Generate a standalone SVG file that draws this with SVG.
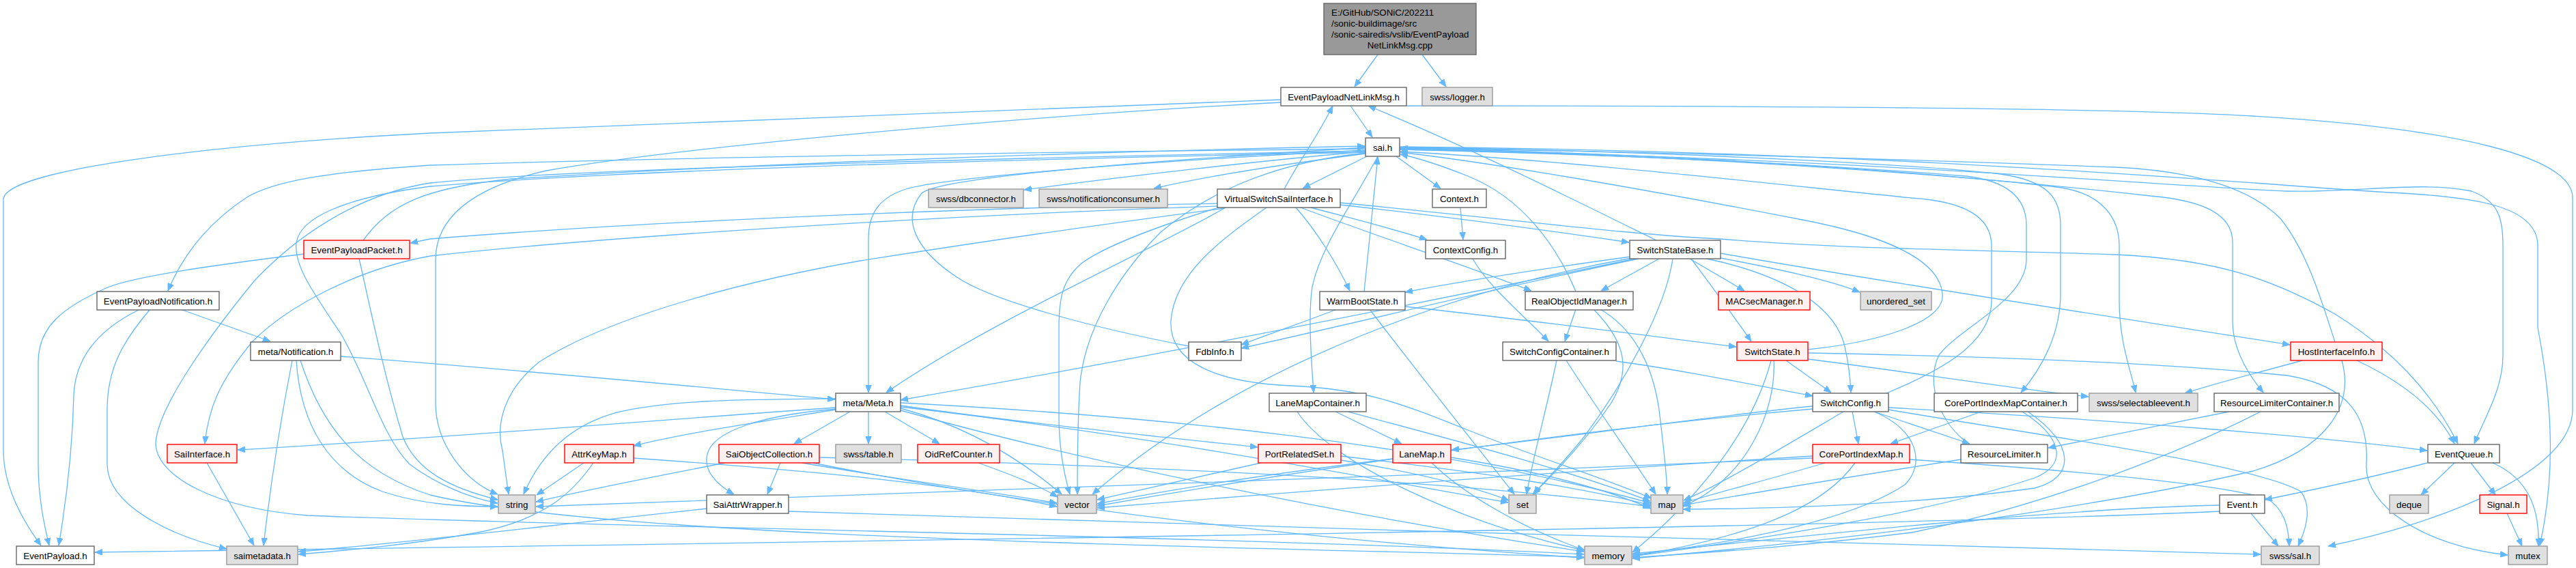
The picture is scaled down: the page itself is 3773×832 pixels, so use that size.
<svg xmlns="http://www.w3.org/2000/svg" width="3773" height="832" viewBox="0 0 3773 832">
<style>
.n rect{fill:#ffffff;stroke:#666666}
.g rect{fill:#e0e0e0;stroke:#999999}
.r rect{fill:#fff0f0;stroke:#ff0000}
.root rect{fill:#999999;stroke:#666666}
rect{stroke-width:1.4}
text{font-family:"Liberation Sans",Arial,Helvetica,sans-serif;font-size:13.33px;fill:#000000;text-anchor:middle}
.root text.l{text-anchor:start}
#edges path{fill:none;stroke:#63b8ff;stroke-width:1.3;marker-end:url(#a)}
</style>
<defs>
<marker id="a" markerWidth="11" markerHeight="9" refX="11" refY="4.5" orient="auto" markerUnits="userSpaceOnUse"><path d="M0,0 L11,4.5 L0,9 z" fill="#63b8ff" stroke="#63b8ff" stroke-width="0.8"/></marker>
</defs>
<rect x="0" y="0" width="3773" height="832" fill="#ffffff"/>
<g id="edges">
<path d="M2018,80 L1984,127"/>
<path d="M2083,80 L2118,127"/>
<path d="M1978,155 L2010,201"/>
<path d="M1876,146 C1500,160 900,185 630,195 C300,212 5,250 5,292 L5,660 C5,715 35,765 60,799"/>
<path d="M2060,155 C2600,155 3100,158 3300,170 C3600,188 3768,230 3768,290 L3768,600 C3768,690 3580,765 3410,800"/>
<path d="M1876,150 C1500,170 1000,215 800,250 C690,275 638,320 638,380 L638,590 C638,650 680,705 729,724"/>
<path d="M2000,222 C1850,235 1650,258 1500,278"/>
<path d="M2000,225 C1900,238 1780,255 1690,276"/>
<path d="M2002,229 L1908,276"/>
<path d="M2045,229 L2110,276"/>
<path d="M2000,218 C1600,222 1000,230 630,242 C480,252 400,265 360,290 C300,330 265,380 246,426"/>
<path d="M2000,220 C1700,235 1400,258 1330,276 C1290,288 1272,310 1272,350 L1272,575"/>
<path d="M2018,229 C1980,300 1935,360 1922,420 C1916,460 1920,520 1924,575"/>
<path d="M2000,224 C1850,240 1760,290 1700,340 C1640,400 1590,480 1582,560 C1578,620 1578,680 1578,724"/>
<path d="M2050,216 C2400,220 2800,240 2930,255 C3000,265 3018,290 3018,330 L3018,430 C3018,490 2990,540 2960,575"/>
<path d="M2050,217 C2500,225 2900,260 3020,275 C3080,285 3104,320 3104,360 L3104,440 C3104,500 3120,540 3128,575"/>
<path d="M2050,218 C2600,230 3000,270 3150,287 C3230,294 3270,315 3270,355 L3270,470 C3270,510 3290,545 3315,575"/>
<path d="M2050,219 C2700,230 3200,275 3350,280 C3450,282 3550,265 3620,280 C3660,295 3666,320 3666,360 L3666,520 C3666,570 3640,610 3624,650"/>
<path d="M2050,215 C2800,222 3300,270 3500,282 C3620,288 3717,300 3717,360 L3717,480 C3740,600 3742,700 3720,799"/>
<path d="M2000,223 C1400,235 900,250 630,273 C500,290 440,320 434,355 C430,390 460,430 500,490 C540,560 560,640 600,680 C640,710 690,730 729,737"/>
<path d="M2000,221 C1300,235 800,250 630,268 C520,285 430,350 372,412 C300,500 230,600 228,650 C230,700 320,745 450,755 C800,770 1800,785 2320,812"/>
<path d="M532,352 C570,300 620,275 750,262 C1100,240 1600,222 1999,214"/>
<path d="M1741,507 C1600,480 1450,440 1400,405 C1340,365 1320,320 1350,283 C1380,258 1700,235 1999,216"/>
<path d="M1998,427 C2005,360 2012,290 2018,230"/>
<path d="M2308,427 C2280,360 2230,290 2150,258 C2110,242 2080,232 2051,226"/>
<path d="M2648,512 C2760,500 2850,470 2845,430 C2840,380 2760,345 2640,322 C2450,285 2200,240 2051,223"/>
<path d="M2763,576 C2850,540 2917,500 2917,440 L2917,360 C2917,320 2880,295 2800,290 C2600,270 2300,235 2051,222"/>
<path d="M2885,651 C2840,620 2820,560 2840,520 C2870,480 2968,440 2968,380 L2968,330 C2968,290 2940,265 2880,258 C2600,235 2300,225 2051,219"/>
<path d="M3420,501 C3400,440 3380,370 3340,320 C3290,270 3200,250 3100,245 C2700,230 2300,220 2051,217"/>
<path d="M1881,277 C1900,240 1930,200 1952,155"/>
<path d="M2426,352 C2300,290 2150,215 2004,155"/>
<path d="M1783,298 C1500,303 1000,320 630,350 L601,356"/>
<path d="M1783,302 C1400,315 900,345 630,375 C520,395 420,450 370,500 C320,560 305,600 300,650"/>
<path d="M1795,304 C1700,360 1450,470 1298,575"/>
<path d="M1920,304 C1980,320 2040,335 2090,351"/>
<path d="M1963,300 C2100,315 2250,335 2386,355"/>
<path d="M1898,304 C1930,340 1960,390 1977,426"/>
<path d="M1905,304 C2000,340 2150,390 2243,426"/>
<path d="M1963,297 C2200,320 2400,345 2520,350 C2700,365 2900,366 3100,373 C3250,380 3330,410 3420,460 C3500,510 3560,570 3600,650"/>
<path d="M1785,304 C1700,330 1620,360 1585,385 C1555,410 1551,440 1551,480 L1551,610 C1551,660 1560,700 1567,724"/>
<path d="M1794,305 C1600,330 1400,360 1260,382 C1100,410 900,460 790,530 C740,570 725,620 736,660 C740,690 742,705 745,724"/>
<path d="M1855,304 C1790,350 1720,400 1715,470 C1712,530 1780,560 1890,565 C2000,570 2050,590 2150,630 C2250,670 2350,700 2419,730"/>
<path d="M2139,304 L2143,351"/>
<path d="M2157,379 C2180,420 2230,460 2268,500"/>
<path d="M445,372 C300,390 200,405 160,420 C90,450 56,480 56,530 L56,680 C56,730 65,770 72,799"/>
<path d="M526,379 C540,440 560,540 590,640 C610,690 660,715 729,732"/>
<path d="M267,454 L396,500"/>
<path d="M203,454 C150,480 110,520 108,580 C106,660 96,740 86,799"/>
<path d="M219,454 C180,500 157,540 157,600 L157,680 C157,740 250,785 332,804"/>
<path d="M428,528 C410,620 395,720 386,799"/>
<path d="M499,522 C800,545 1000,565 1223,585"/>
<path d="M434,528 C440,620 480,690 560,720 C620,740 680,742 729,742"/>
<path d="M440,528 C470,620 520,690 630,725 C900,790 1800,800 2320,816"/>
<path d="M303,678 L372,799"/>
<path d="M1035,745 C800,770 600,795 437,808"/>
<path d="M869,678 C840,720 800,760 700,780 C600,798 520,805 437,812"/>
<path d="M3251,749 C2800,770 1500,790 139,809"/>
<path d="M3251,740 C3000,745 2600,790 2391,811"/>
<path d="M1272,603 L1272,650"/>
<path d="M1296,603 L1376,650"/>
<path d="M1319,598 C1400,620 1480,660 1555,724"/>
<path d="M1319,594 C1500,620 1700,640 1842,655"/>
<path d="M1319,590 C1700,610 2100,650 2418,737"/>
<path d="M1224,597 C900,620 600,645 348,659"/>
<path d="M1224,600 C1100,620 1000,635 928,653"/>
<path d="M1245,603 L1163,650"/>
<path d="M1224,599 C1120,608 1045,630 1036,665 C1030,690 1050,710 1075,724"/>
<path d="M1224,584 C1100,585 980,585 900,605 C830,625 790,670 767,724"/>
<path d="M1319,601 C1600,680 2000,760 2320,808"/>
<path d="M1319,596 C1700,640 2000,700 2209,736"/>
<path d="M1956,603 L2053,650"/>
<path d="M1974,603 C2150,650 2300,690 2417,734"/>
<path d="M1900,603 C1950,680 2150,770 2321,806"/>
<path d="M1143,678 L1124,724"/>
<path d="M1062,678 C950,700 870,715 785,735"/>
<path d="M1175,678 C1300,700 1450,720 1548,737"/>
<path d="M1200,670 C1600,680 2100,700 2417,742"/>
<path d="M1190,678 C1500,740 1900,790 2320,817"/>
<path d="M855,678 L786,725"/>
<path d="M928,671 C1200,690 1400,710 1548,742"/>
<path d="M1433,678 C1480,695 1520,710 1549,728"/>
<path d="M1847,678 C1750,700 1680,715 1607,732"/>
<path d="M1964,674 C2060,690 2150,710 2210,733"/>
<path d="M1964,668 C2150,690 2300,710 2418,740"/>
<path d="M2040,672 C1850,695 1700,720 1607,738"/>
<path d="M2125,670 C2250,690 2350,715 2418,745"/>
<path d="M2097,678 C2140,720 2220,770 2321,806"/>
<path d="M2280,528 C2265,600 2245,670 2236,724"/>
<path d="M2294,528 C2340,600 2390,670 2425,724"/>
<path d="M2367,529 C2450,540 2550,560 2655,580"/>
<path d="M2308,453 L2292,500"/>
<path d="M2334,453 C2380,500 2390,540 2360,590 C2320,650 2270,700 2245,724"/>
<path d="M2344,453 C2390,480 2420,530 2430,600 C2436,650 2442,700 2442,724"/>
<path d="M1958,453 C1920,468 1870,485 1818,505"/>
<path d="M2006,453 C2080,550 2160,650 2218,724"/>
<path d="M2058,449 C2250,470 2400,490 2543,508"/>
<path d="M2430,379 L2345,426"/>
<path d="M2388,376 C2250,395 2150,410 2058,428"/>
<path d="M2475,379 L2555,426"/>
<path d="M2510,376 C2600,393 2680,410 2724,428"/>
<path d="M2477,379 C2500,410 2530,450 2565,500"/>
<path d="M2500,379 C2600,400 2680,440 2700,500 C2708,530 2710,555 2711,575"/>
<path d="M2520,371 C2800,420 3100,465 3354,505"/>
<path d="M2400,379 C2200,420 2000,470 1818,510"/>
<path d="M2395,379 C2100,440 1700,520 1319,586"/>
<path d="M2450,379 C2440,450 2380,560 2320,640 C2280,690 2255,710 2248,724"/>
<path d="M2390,378 C2100,430 1800,550 1600,724"/>
<path d="M2616,528 L2682,575"/>
<path d="M2648,526 C2800,545 2950,570 3059,581"/>
<path d="M2648,517 C2900,522 3150,530 3350,550 C3440,565 3470,610 3466,680 C3462,740 3550,800 3673,813"/>
<path d="M2594,528 C2570,620 2500,720 2391,809"/>
<path d="M2598,528 C2602,600 2560,700 2465,742"/>
<path d="M2713,603 L2722,650"/>
<path d="M2745,603 L2885,650"/>
<path d="M2766,597 C3100,615 3400,640 3555,660"/>
<path d="M2655,595 C2500,610 2300,640 2126,659"/>
<path d="M2655,599 C2300,630 1900,690 1607,741"/>
<path d="M2745,603 C2810,630 2820,680 2790,710 C2700,770 2500,800 2391,813"/>
<path d="M2700,603 C2620,650 2520,710 2466,733"/>
<path d="M2902,603 L2769,650"/>
<path d="M2962,603 C3020,640 3030,680 2980,700 C2800,760 2500,800 2391,815"/>
<path d="M2970,603 C3040,650 3040,700 2980,715 C2800,740 2600,745 2465,746"/>
<path d="M3265,603 C3180,620 3080,640 3000,656"/>
<path d="M3311,603 C3200,660 3000,740 2800,780 C2600,805 2450,812 2391,817"/>
<path d="M2872,673 C2700,700 2550,725 2465,740"/>
<path d="M2655,668 C2300,690 1900,720 1607,744"/>
<path d="M2655,671 C2000,700 1200,730 785,742"/>
<path d="M2673,678 C2600,700 2520,720 2465,737"/>
<path d="M2717,678 C2680,730 2600,780 2391,815"/>
<path d="M2797,673 C3050,690 3250,710 3320,730 C3345,745 3352,770 3353,800"/>
<path d="M3372,528 C3300,548 3250,560 3200,576"/>
<path d="M3452,528 C3520,560 3570,600 3595,650"/>
<path d="M3430,528 C3450,600 3400,660 3300,690 C3000,760 2600,800 2391,818"/>
<path d="M3555,678 C3480,698 3400,715 3317,732"/>
<path d="M3595,678 L3546,725"/>
<path d="M3619,678 L3655,725"/>
<path d="M3651,678 C3700,700 3720,740 3718,800"/>
<path d="M3297,752 L3337,800"/>
<path d="M3672,752 L3694,800"/>
<path d="M2766,600 C3000,640 3300,680 3370,720 C3385,740 3380,770 3366,800"/>
<path d="M1155,749 C1800,770 2800,800 3311,812"/>
</g>
<g id="n_root" class="root"><rect x="1939" y="5" width="223" height="75"/><text class="l" x="1950" y="23">E:/GitHub/SONiC/202211</text><text class="l" x="1950" y="39">/sonic-buildimage/src</text><text class="l" x="1950" y="55">/sonic-sairedis/vslib/EventPayload</text><text x="2050.5" y="71">NetLinkMsg.cpp</text></g>
<g id="n_EventPayloadNetLinkMsg" class="n"><rect x="1876" y="128" width="184" height="27"/><text x="1968" y="146.5">EventPayloadNetLinkMsg.h</text></g>
<g id="n_logger" class="g"><rect x="2083" y="128" width="103" height="27"/><text x="2134.5" y="146.5">swss/logger.h</text></g>
<g id="n_sai" class="n"><rect x="2000" y="202" width="50" height="27"/><text x="2025" y="220.5">sai.h</text></g>
<g id="n_dbconnector" class="g"><rect x="1360" y="277" width="139" height="27"/><text x="1429.5" y="295.5">swss/dbconnector.h</text></g>
<g id="n_notificationconsumer" class="g"><rect x="1522" y="277" width="188" height="27"/><text x="1616" y="295.5">swss/notificationconsumer.h</text></g>
<g id="n_VirtualSwitchSaiInterface" class="n"><rect x="1783" y="277" width="180" height="27"/><text x="1873" y="295.5">VirtualSwitchSaiInterface.h</text></g>
<g id="n_Context" class="n"><rect x="2098" y="277" width="79" height="27"/><text x="2137.5" y="295.5">Context.h</text></g>
<g id="n_EventPayloadPacket" class="r"><rect x="445" y="352" width="155" height="27"/><text x="522.5" y="370.5">EventPayloadPacket.h</text></g>
<g id="n_ContextConfig" class="n"><rect x="2088" y="352" width="117" height="27"/><text x="2146.5" y="370.5">ContextConfig.h</text></g>
<g id="n_SwitchStateBase" class="n"><rect x="2387" y="352" width="133" height="27"/><text x="2453.5" y="370.5">SwitchStateBase.h</text></g>
<g id="n_EventPayloadNotification" class="n"><rect x="142" y="427" width="179" height="27"/><text x="231.5" y="445.5">EventPayloadNotification.h</text></g>
<g id="n_WarmBootState" class="n"><rect x="1933" y="427" width="125" height="27"/><text x="1995.5" y="445.5">WarmBootState.h</text></g>
<g id="n_RealObjectIdManager" class="n"><rect x="2234" y="427" width="158" height="27"/><text x="2313" y="445.5">RealObjectIdManager.h</text></g>
<g id="n_MACsecManager" class="r"><rect x="2517" y="427" width="134" height="27"/><text x="2584" y="445.5">MACsecManager.h</text></g>
<g id="n_unordered_set" class="g"><rect x="2725" y="427" width="104" height="27"/><text x="2777" y="445.5">unordered_set</text></g>
<g id="n_Notification" class="n"><rect x="367" y="501" width="132" height="27"/><text x="433" y="519.5">meta/Notification.h</text></g>
<g id="n_FdbInfo" class="n"><rect x="1741" y="501" width="77" height="27"/><text x="1779.5" y="519.5">FdbInfo.h</text></g>
<g id="n_SwitchConfigContainer" class="n"><rect x="2201" y="501" width="166" height="27"/><text x="2284" y="519.5">SwitchConfigContainer.h</text></g>
<g id="n_SwitchState" class="r"><rect x="2544" y="501" width="104" height="27"/><text x="2596" y="519.5">SwitchState.h</text></g>
<g id="n_HostInterfaceInfo" class="r"><rect x="3355" y="501" width="134" height="27"/><text x="3422" y="519.5">HostInterfaceInfo.h</text></g>
<g id="n_Meta" class="n"><rect x="1224" y="576" width="95" height="27"/><text x="1271.5" y="594.5">meta/Meta.h</text></g>
<g id="n_LaneMapContainer" class="n"><rect x="1859" y="576" width="142" height="27"/><text x="1930" y="594.5">LaneMapContainer.h</text></g>
<g id="n_SwitchConfig" class="n"><rect x="2655" y="576" width="111" height="27"/><text x="2710.5" y="594.5">SwitchConfig.h</text></g>
<g id="n_CorePortIndexMapContainer" class="n"><rect x="2833" y="576" width="210" height="27"/><text x="2938" y="594.5">CorePortIndexMapContainer.h</text></g>
<g id="n_selectableevent" class="g"><rect x="3060" y="576" width="159" height="27"/><text x="3139.5" y="594.5">swss/selectableevent.h</text></g>
<g id="n_ResourceLimiterContainer" class="n"><rect x="3243" y="576" width="183" height="27"/><text x="3334.5" y="594.5">ResourceLimiterContainer.h</text></g>
<g id="n_SaiInterface" class="r"><rect x="245" y="651" width="102" height="27"/><text x="296" y="669.5">SaiInterface.h</text></g>
<g id="n_AttrKeyMap" class="r"><rect x="827" y="651" width="101" height="27"/><text x="877.5" y="669.5">AttrKeyMap.h</text></g>
<g id="n_SaiObjectCollection" class="r"><rect x="1053" y="651" width="147" height="27"/><text x="1126.5" y="669.5">SaiObjectCollection.h</text></g>
<g id="n_table" class="g"><rect x="1224" y="651" width="96" height="27"/><text x="1272" y="669.5">swss/table.h</text></g>
<g id="n_OidRefCounter" class="r"><rect x="1344" y="651" width="120" height="27"/><text x="1404" y="669.5">OidRefCounter.h</text></g>
<g id="n_PortRelatedSet" class="r"><rect x="1843" y="651" width="121" height="27"/><text x="1903.5" y="669.5">PortRelatedSet.h</text></g>
<g id="n_LaneMap" class="r"><rect x="2040" y="651" width="85" height="27"/><text x="2082.5" y="669.5">LaneMap.h</text></g>
<g id="n_CorePortIndexMap" class="r"><rect x="2655" y="651" width="142" height="27"/><text x="2726" y="669.5">CorePortIndexMap.h</text></g>
<g id="n_ResourceLimiter" class="n"><rect x="2872" y="651" width="127" height="27"/><text x="2935.5" y="669.5">ResourceLimiter.h</text></g>
<g id="n_EventQueue" class="n"><rect x="3556" y="651" width="105" height="27"/><text x="3608.5" y="669.5">EventQueue.h</text></g>
<g id="n_string" class="g"><rect x="730" y="725" width="54" height="27"/><text x="757" y="743.5">string</text></g>
<g id="n_SaiAttrWrapper" class="n"><rect x="1035" y="725" width="120" height="27"/><text x="1095" y="743.5">SaiAttrWrapper.h</text></g>
<g id="n_vector" class="g"><rect x="1549" y="725" width="57" height="27"/><text x="1577.5" y="743.5">vector</text></g>
<g id="n_set" class="g"><rect x="2210" y="725" width="40" height="27"/><text x="2230" y="743.5">set</text></g>
<g id="n_map" class="g"><rect x="2418" y="725" width="47" height="27"/><text x="2441.5" y="743.5">map</text></g>
<g id="n_Event" class="n"><rect x="3251" y="725" width="66" height="27"/><text x="3284" y="743.5">Event.h</text></g>
<g id="n_deque" class="g"><rect x="3500" y="725" width="57" height="27"/><text x="3528.5" y="743.5">deque</text></g>
<g id="n_Signal" class="r"><rect x="3632" y="725" width="69" height="27"/><text x="3666.5" y="743.5">Signal.h</text></g>
<g id="n_EventPayload" class="n"><rect x="24" y="800" width="114" height="27"/><text x="81" y="818.5">EventPayload.h</text></g>
<g id="n_saimetadata" class="g"><rect x="332" y="800" width="104" height="27"/><text x="384" y="818.5">saimetadata.h</text></g>
<g id="n_memory" class="g"><rect x="2321" y="800" width="69" height="27"/><text x="2355.5" y="818.5">memory</text></g>
<g id="n_sal" class="g"><rect x="3312" y="800" width="85" height="27"/><text x="3354.5" y="818.5">swss/sal.h</text></g>
<g id="n_mutex" class="g"><rect x="3674" y="800" width="57" height="27"/><text x="3702.5" y="818.5">mutex</text></g>
</svg>
